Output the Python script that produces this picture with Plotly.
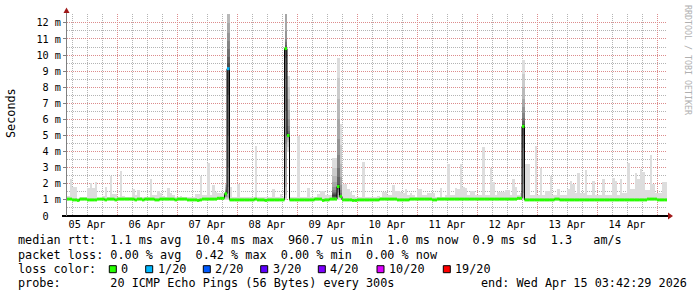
import plotly.graph_objects as go
import pandas as pd

# ---------------- data (hourly steps, first step starts 2026-04-05 04:00) ----------------
start = pd.Timestamp("2026-04-05 04:00")

median = [
    1.05, 1.05, 1.0, 1.0, 0.97, 1.05, 1.05, 1.05, 1.0, 1.0, 1.0, 1.0, 1.05, 1.05, 1.05, 1.0, 1.05, 1.05, 1.05, 1.0, 1.05, 1.05, 1.05, 1.05,
    1.05, 1.05, 1.05, 1.0, 1.05, 1.05, 1.0, 1.05, 1.05, 1.05, 1.05, 1.0, 1.0, 1.05, 1.05, 1.05, 1.05, 1.05, 1.05, 1.0, 1.05, 1.05, 1.05, 1.05,
    1.0, 1.0, 1.0, 1.0, 0.97, 1.0, 1.05, 1.05, 1.05, 1.05, 1.05, 1.05, 1.1, 1.1, 1.1, 1.38, 9.15, 1.0, 1.0, 1.0, 1.0, 1.0, 1.0, 1.0,
    1.0, 1.0, 1.0, 1.05, 1.0, 1.0, 1.0, 0.97, 1.0, 1.0, 1.0, 1.0, 1.0, 1.0, 1.0, 10.4, 5.0, 1.0, 1.0, 1.0, 1.0, 1.0, 1.0, 1.0,
    1.0, 1.0, 1.0, 1.05, 1.05, 1.05, 0.97, 1.0, 1.0, 1.05, 1.05, 1.05, 1.83, 1.21, 1.0, 1.0, 1.0, 1.0, 0.97, 0.97, 1.0, 1.0, 1.0, 1.0,
    1.0, 1.0, 1.0, 1.0, 1.0, 1.05, 1.05, 1.05, 1.05, 1.05, 1.05, 1.05, 1.0, 1.0, 1.0, 1.0, 1.0, 1.05, 1.05, 1.05, 1.05, 1.05, 1.05, 1.05,
    1.05, 1.05, 1.0, 1.0, 1.05, 1.05, 1.05, 1.05, 1.05, 1.05, 1.05, 1.05, 1.05, 1.05, 1.05, 1.05, 1.05, 1.05, 1.05, 1.05, 1.05, 1.05, 1.05, 1.05,
    1.05, 1.05, 1.05, 1.05, 1.05, 1.05, 1.05, 1.05, 1.05, 1.05, 1.05, 1.05, 1.1, 1.1, 5.57, 1.0, 1.0, 1.0, 1.0, 1.0, 1.0, 1.0, 1.0, 1.0,
    1.0, 1.0, 1.0, 1.05, 1.05, 1.0, 1.0, 1.0, 1.0, 1.0, 1.0, 1.0, 1.0, 1.0, 1.0, 1.0, 1.0, 1.0, 1.0, 1.0, 1.0, 1.0, 1.0, 1.0,
    1.0, 1.0, 1.0, 1.0, 1.0, 1.0, 1.0, 1.0, 1.0, 1.0, 1.0, 1.0, 1.0, 1.0, 1.0, 1.0, 1.05, 1.05, 1.05, 1.05, 1.0, 1.0, 1.0, 1.0,
]

loss = [0] * 64 + [1] + [0] * 175

smoke_max = [
    1.27, 2.27, 1.79, 1.79, 1.1, 1.2, 1.2, 1.15, 1.75, 2.06, 1.73, 2.14, 1.1, 1.1, 1.27, 1.8, 1.2, 2.5, 1.35, 1.35, 1.2, 2.81, 1.25, 1.2,
    1.2, 1.15, 1.65, 1.3, 1.6, 1.2, 1.2, 1.15, 1.2, 2.31, 1.3, 1.3, 1.56, 1.41, 1.25, 1.2, 1.73, 1.42, 1.3, 1.2, 1.15, 1.27, 1.2, 1.15,
    1.2, 1.2, 1.2, 1.35, 1.35, 2.5, 1.3, 1.3, 3.28, 1.3, 1.9, 1.48, 1.4, 1.4, 1.4, 1.5, 14.0, 1.8, 1.2, 1.2, 2.0, 1.2, 1.15, 1.2,
    1.2, 1.15, 1.2, 4.34, 1.2, 1.15, 1.2, 1.15, 1.2, 1.2, 1.65, 1.2, 1.15, 1.34, 1.2, 15.0, 8.7, 1.2, 1.2, 1.2, 4.95, 1.2, 1.2, 1.2,
    1.75, 1.2, 1.2, 1.2, 1.34, 1.54, 1.54, 1.3, 1.3, 1.3, 3.62, 3.62, 9.8, 5.73, 2.0, 2.0, 1.7, 1.5, 1.3, 1.2, 1.2, 1.2, 3.35, 1.2,
    1.2, 1.2, 1.2, 1.2, 1.25, 1.2, 1.5, 1.48, 1.3, 1.3, 1.9, 1.58, 1.58, 1.5, 1.4, 1.7, 1.3, 1.4, 1.3, 1.2, 1.7, 1.7, 1.3, 1.3,
    1.42, 1.4, 1.4, 1.2, 1.2, 1.75, 1.2, 1.3, 3.2, 1.3, 1.3, 1.75, 1.7, 3.25, 1.8, 1.75, 1.3, 1.55, 1.55, 1.3, 1.3, 1.3, 4.28, 1.3,
    1.3, 3.0, 2.14, 1.3, 1.48, 1.48, 1.48, 1.6, 1.6, 1.3, 2.27, 1.8, 1.3, 1.4, 9.67, 3.2, 3.25, 1.3, 1.3, 4.35, 1.3, 3.0, 1.3, 1.58,
    1.58, 2.5, 1.3, 1.3, 1.69, 1.3, 1.3, 1.3, 1.65, 2.2, 1.96, 1.4, 2.69, 1.4, 1.4, 2.83, 1.3, 1.3, 2.2, 1.3, 1.3, 1.3, 2.27, 1.3,
    1.3, 1.3, 2.35, 2.2, 1.3, 2.31, 1.4, 1.4, 3.28, 1.7, 1.7, 2.7, 2.3, 2.93, 2.72, 1.6, 1.6, 3.76, 2.0, 1.4, 1.4, 1.4, 2.1, 2.1,
]

# sorted ping values (20 pings) for the steps with visible smoke structure
smoke_profiles = {
    63: [1.0, 1.05, 1.1, 1.15, 1.2, 1.25, 1.3, 1.33, 1.35, 1.37, 1.39, 1.42, 1.45, 1.5, 1.55, 1.6, 1.7, 1.8, 1.9, 2.0],
    64: [1.0, 1.05, 1.1, 1.2, 1.4, 1.8, 3.0, 5.0, 7.5, 9.0, 9.2, 9.5, 9.9, 10.4, 10.9, 11.4, 12.0, 12.6, 13.5, 14.0],
    87: [1.0, 1.1, 1.3, 1.8, 3.0, 4.5, 6.5, 8.5, 9.8, 10.3, 10.4, 10.5, 10.6, 10.8, 11.0, 11.5, 12.6, 13.0, 14.0, 15.0],
    88: [3.97, 4.3, 4.6, 4.75, 4.85, 4.9, 4.95, 4.97, 4.99, 5.0, 5.0, 5.05, 5.15, 5.3, 5.6, 6.0, 6.6, 7.3, 8.0, 8.7],
    106: [1.0, 1.02, 1.04, 1.06, 1.08, 1.1, 1.12, 1.15, 1.2, 1.25, 1.3, 1.35, 1.4, 1.5, 1.6, 1.8, 2.1, 2.5, 3.0, 3.62],
    107: [1.0, 1.02, 1.04, 1.06, 1.08, 1.1, 1.12, 1.15, 1.2, 1.25, 1.3, 1.35, 1.4, 1.5, 1.6, 1.8, 2.1, 2.5, 3.0, 3.62],
    108: [1.0, 1.1, 1.2, 1.3, 1.4, 1.5, 1.6, 1.7, 1.75, 1.8, 1.85, 2.0, 2.4, 3.0, 3.8, 4.8, 6.0, 7.3, 8.6, 9.8],
    109: [1.0, 1.05, 1.1, 1.12, 1.15, 1.17, 1.18, 1.19, 1.2, 1.21, 1.22, 1.25, 1.3, 1.4, 1.6, 1.9, 2.4, 3.2, 4.4, 5.73],
    182: [1.0, 1.05, 1.1, 1.2, 1.4, 2.0, 3.0, 4.2, 5.0, 5.5, 5.57, 5.7, 5.9, 6.1, 6.4, 6.8, 7.3, 8.0, 8.8, 9.67],
}

day_labels = ["05 Apr", "06 Apr", "07 Apr", "08 Apr", "09 Apr", "10 Apr", "11 Apr", "12 Apr", "13 Apr", "14 Apr"]
y_ticks = list(range(13))
y_tick_text = ["0\u00a0\u00a0"] + [f"{v} m" for v in range(1, 13)]

loss_labels = ["0", "1/20", "2/20", "3/20", "4/20", "10/20", "19/20"]
loss_thresholds = [0, 1, 2, 3, 4, 10, 19]
loss_colors = ["#26ff00", "#00b8ff", "#0059ff", "#5e00ff", "#7e00ff", "#dd00ff", "#ff0000"]

legend_line1 = "median rtt:  1.1 ms avg  10.4 ms max  960.7 us min  1.0 ms now  0.9 ms sd  1.3   am/s"
legend_line2 = "packet loss: 0.00 % avg  0.42 % max  0.00 % min  0.00 % now"
legend_line4 = "probe:       20 ICMP Echo Pings (56 Bytes) every 300s"
end_text = "end: Wed Apr 15 03:42:29 2026"

# ---------------- geometry helpers ----------------
W, H = 697, 297
L, R, T, B = 67, 30, 14, 81
PW, PH = W - L - R, H - T - B


def px(x):
    return (x - L) / PW


def py(y):
    return (H - B - y) / PH


def nb(s):
    return s.replace(" ", "\u00a0")


n = len(median)
times = pd.date_range(start, periods=n + 1, freq="h")
step_ms = 3600 * 1000
MONO = "DejaVu Sans Mono"

fig = go.Figure()

# ---------------- smoke ----------------
def gray(k):
    g = int(round(0xDD - k * (0xDD - 0x3C) / 9))
    return f"rgb({g},{g},{g})"


for k in range(10):
    xs, bases, hs = [], [], []
    for i in range(n):
        if i in smoke_profiles:
            p = smoke_profiles[i]
            lo, hi = p[k], p[19 - k]
        elif k == 0:
            lo, hi = median[i], smoke_max[i]
        else:
            continue
        xs.append(times[i])
        bases.append(lo)
        hs.append(hi - lo)
    fig.add_trace(go.Bar(x=xs, y=hs, base=bases, width=step_ms, offset=0,
                         marker=dict(color=gray(k), line=dict(width=0)),
                         hoverinfo="skip"))

# ---------------- median line ----------------
fig.add_trace(go.Scatter(x=list(times), y=median + [median[-1]], mode="lines",
                         line=dict(color="#000000", width=1, shape="hv"), hoverinfo="skip"))


def loss_class(v):
    c = 0
    for j, t in enumerate(loss_thresholds):
        if v >= t:
            c = j
    return c


for j, col in enumerate(loss_colors):
    xs, ys = [], []
    for i in range(n):
        if loss_class(loss[i]) == j:
            xs += [times[i], times[i + 1], None]
            ys += [median[i], median[i], None]
    if xs:
        fig.add_trace(go.Scatter(x=xs, y=ys, mode="lines", xaxis="x2",
                                 line=dict(color=col, width=3), hoverinfo="skip"))

# ---------------- axes ----------------
x0, x1 = times[0], times[-1]
midnights = pd.date_range("2026-04-06", "2026-04-15", freq="D")
six_hours = [t for t in pd.date_range("2026-04-05 06:00", "2026-04-15 00:00", freq="6h") if t.hour != 0]
noons = pd.date_range("2026-04-05 12:00", periods=len(day_labels), freq="D")

RED = "#dc8c8c"
GRAY = "#b4b4b4"
DASH = "1px,1px"

fig.update_layout(
    width=W, height=H,
    margin=dict(l=L, r=R, t=T, b=B, pad=0),
    paper_bgcolor="#ffffff", plot_bgcolor="#ffffff",
    showlegend=False, barmode="overlay", bargap=0,
    font=dict(family=MONO, color="#000000"),
    xaxis=dict(type="date", range=[x0, x1], tickmode="array", tickvals=list(midnights),
               showticklabels=False, ticks="", showgrid=True, gridcolor=RED, griddash=DASH, gridwidth=1,
               minor=dict(tickmode="array", tickvals=six_hours, showgrid=True, gridcolor=GRAY,
                          griddash=DASH, gridwidth=1, ticks=""),
               zeroline=False, showline=False, fixedrange=True),
    xaxis2=dict(type="date", range=[x0, x1], overlaying="x", side="bottom", anchor="y",
                tickmode="array", tickvals=list(noons), ticktext=day_labels,
                showgrid=False, ticks="", tickfont=dict(family=MONO, size=10.2, color="#000000"),
                zeroline=False, showline=False, ticklabelstandoff=1),
    yaxis=dict(range=[0, 12.55], tickmode="array", tickvals=y_ticks, ticktext=y_tick_text,
               showgrid=True, gridcolor=RED, griddash=DASH, gridwidth=1,
               minor=dict(tickmode="array", tickvals=[v + 0.5 for v in range(13)], showgrid=True,
                          gridcolor=GRAY, griddash=DASH, gridwidth=1, ticks=""),
               ticks="outside", ticklen=3, tickcolor="#808080",
               tickfont=dict(family=MONO, size=10.2, color="#000000"),
               zeroline=False, showline=False, fixedrange=True),
)

shapes = []
# x axis line + arrow
shapes.append(dict(type="line", xref="paper", yref="paper", x0=px(62), x1=px(668), y0=py(216), y1=py(216),
                   line=dict(color="#000000", width=2)))
shapes.append(dict(type="path", xref="paper", yref="paper",
                   path=f"M {px(668)} {py(212.5)} L {px(673)} {py(216)} L {px(668)} {py(219.5)} Z",
                   fillcolor="#a01818", line=dict(width=0)))
# y axis line + arrow
shapes.append(dict(type="line", xref="paper", yref="paper", x0=px(66.5), x1=px(66.5), y0=py(216), y1=py(11),
                   line=dict(color="#808080", width=1)))
shapes.append(dict(type="path", xref="paper", yref="paper",
                   path=f"M {px(63.5)} {py(13)} L {px(66.5)} {py(7.5)} L {px(69.5)} {py(13)} Z",
                   fillcolor="#a01818", line=dict(width=0)))

# loss colour legend boxes
box_left = [109.3, 145.7, 203.3, 260.7, 318.3, 377.0, 443.3]
for bx, col in zip(box_left, loss_colors):
    shapes.append(dict(type="rect", xref="paper", yref="paper", x0=px(bx), x1=px(bx + 7),
                       y0=py(272.7), y1=py(265.7), fillcolor=col, line=dict(color="#000000", width=1)))
fig.update_layout(shapes=shapes)

ann = []
LEG = 11.8


def add_text(x, y, s, size=LEG, anchor="left", color="#000000", angle=0, yanchor="middle"):
    ann.append(dict(x=px(x), y=py(y), xref="paper", yref="paper", text=nb(s), showarrow=False,
                    xanchor=anchor, yanchor=yanchor, textangle=angle,
                    font=dict(family=MONO, size=size, color=color)))


add_text(16, 240, legend_line1)
add_text(16, 255, legend_line2)
add_text(16, 269.3, "loss color:")
for bx, lab in zip(box_left, loss_labels):
    add_text(bx + 9.8, 269.3, lab)
add_text(16, 283.3, legend_line4)
add_text(479, 283.3, end_text)

ann.append(dict(x=px(11), y=py(113), xref="paper", yref="paper", text="Seconds", showarrow=False,
                xanchor="center", yanchor="middle", textangle=-90,
                font=dict(family=MONO, size=11.8, color="#000000")))
ann.append(dict(x=px(688), y=py(60), xref="paper", yref="paper", text=nb("RRDTOOL / TOBI OETIKER"),
                showarrow=False, xanchor="center", yanchor="middle", textangle=90,
                font=dict(family=MONO, size=8.3, color="#b0b0b0")))
fig.update_layout(annotations=ann)

fig.write_html("out.html")
